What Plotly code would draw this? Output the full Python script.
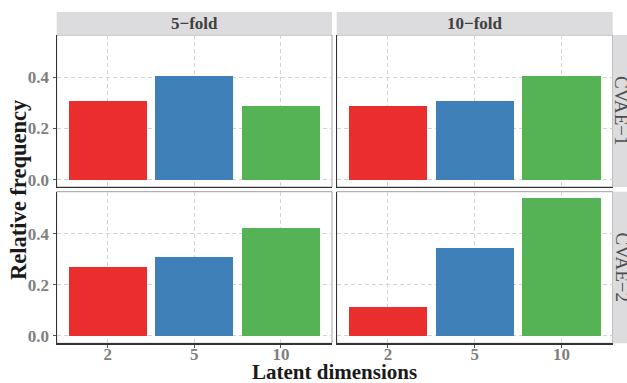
import plotly.graph_objects as go

# ---- data ----
categories = ["2", "5", "10"]
folds = ["5\u2212fold", "10\u2212fold"]
models = ["CVAE\u22121", "CVAE\u22122"]
cvae1_5fold = [0.307, 0.404, 0.287]
cvae1_10fold = [0.287, 0.306, 0.404]
cvae2_5fold = [0.269, 0.308, 0.421]
cvae2_10fold = [0.113, 0.343, 0.538]
y_ticks = [0.0, 0.2, 0.4]
y_tick_labels = ["0.0", "0.2", "0.4"]
bar_colors = ["#E92E2D", "#3E80B7", "#55B356"]

W, H = 627, 383
FONT = "Liberation Serif"

def px_x(x):
    return x / W

def px_y(y):
    return (H - y) / H

# panel domains (pixel positions converted to paper)
xdom = [[px_x(56.7), px_x(332.0)], [px_x(336.7), px_x(612.7)]]
ydom = [[px_y(187.0), px_y(35.0)], [px_y(343.3), px_y(191.7)]]

panels = [
    (0, 0, cvae1_5fold),
    (0, 1, cvae1_10fold),
    (1, 0, cvae2_5fold),
    (1, 1, cvae2_10fold),
]

fig = go.Figure()
layout = {}
shapes = []
annotations = []

for i, (r, c, vals) in enumerate(panels):
    n = i + 1
    xa = "x" if n == 1 else f"x{n}"
    ya = "y" if n == 1 else f"y{n}"
    fig.add_trace(go.Bar(
        x=categories, y=vals, width=0.9,
        marker=dict(color=bar_colors, line=dict(width=0)),
        xaxis=xa, yaxis=ya, showlegend=False, hoverinfo="skip",
    ))
    xkey = "xaxis" if n == 1 else f"xaxis{n}"
    ykey = "yaxis" if n == 1 else f"yaxis{n}"
    layout[xkey] = dict(
        domain=xdom[c], anchor=ya, type="category",
        categoryorder="array", categoryarray=categories,
        range=[-0.59, 2.59], automargin=False,
        showgrid=True, gridcolor="#D4D4D4", gridwidth=1, griddash="4px,3px",
        showline=True, linecolor="#333333", linewidth=1.2,
        ticks="outside" if r == 1 else "", ticklen=3, tickcolor="#555555",
        showticklabels=(r == 1), ticklabelstandoff=-8,
        tickfont=dict(family=FONT, size=17, color="#7F7F7F", weight="bold"),
        zeroline=False, fixedrange=True,
    )
    layout[ykey] = dict(
        domain=ydom[r], anchor=xa,
        range=[-0.029, 0.564], automargin=False,
        tickvals=y_ticks, ticktext=y_tick_labels,
        showgrid=True, gridcolor="#D4D4D4", gridwidth=1, griddash="4px,3px",
        showline=True, linecolor="#333333", linewidth=1.2,
        ticks="outside" if c == 0 else "", ticklen=3, tickcolor="#555555",
        showticklabels=(c == 0),
        tickfont=dict(family=FONT, size=17, color="#7F7F7F", weight="bold"),
        zeroline=False, fixedrange=True,
    )
    # panel border (top/right in grey)
    shapes.append(dict(type="rect", xref="paper", yref="paper",
                       x0=xdom[c][0], x1=xdom[c][1], y0=ydom[r][0], y1=ydom[r][1],
                       line=dict(color="#A0A0A0", width=1), layer="below"))

# top strips
for c, lab in enumerate(folds):
    shapes.append(dict(type="rect", xref="paper", yref="paper",
                       x0=xdom[c][0], x1=xdom[c][1], y0=px_y(34.7), y1=px_y(12.0),
                       fillcolor="#DCDCDE", line=dict(width=0), layer="below"))
    annotations.append(dict(text=lab, xref="paper", yref="paper",
                            x=(xdom[c][0] + xdom[c][1]) / 2, y=(px_y(34.7) + px_y(12.0)) / 2,
                            showarrow=False, xanchor="center", yanchor="middle",
                            font=dict(family=FONT, size=17, color="#404040", weight="bold")))

# right strips
for r, lab in enumerate(models):
    shapes.append(dict(type="rect", xref="paper", yref="paper",
                       x0=px_x(612.7), x1=px_x(640), y0=ydom[r][0], y1=ydom[r][1],
                       fillcolor="#DCDCDE", line=dict(width=0), layer="below"))
    annotations.append(dict(text=lab, xref="paper", yref="paper",
                            x=px_x(622.0), y=(ydom[r][0] + ydom[r][1]) / 2,
                            showarrow=False, xanchor="center", yanchor="middle", textangle=90,
                            font=dict(family=FONT, size=19, color="#4D4D4D")))

# axis titles
annotations.append(dict(text="<b>Latent dimensions</b>", xref="paper", yref="paper",
                        x=px_x(334.0), y=px_y(371.5), showarrow=False,
                        xanchor="center", yanchor="middle",
                        font=dict(family=FONT, size=21, color="#1A1A1A")))
annotations.append(dict(text="<b>Relative frequency</b>", xref="paper", yref="paper",
                        x=px_x(18), y=px_y(190), showarrow=False, textangle=-90,
                        xanchor="center", yanchor="middle",
                        font=dict(family=FONT, size=22.5, color="#1A1A1A")))

fig.update_layout(
    width=W, height=H,
    margin=dict(l=0, r=0, t=0, b=0, autoexpand=False),
    paper_bgcolor="white", plot_bgcolor="white",
    shapes=shapes, annotations=annotations,
    bargap=0, hovermode=False, **layout,
)

fig.write_html(
    "out.html",
    config={"displayModeBar": False, "staticPlot": True},
    post_script="document.body.style.margin='0';document.body.style.overflow='hidden';",
)
